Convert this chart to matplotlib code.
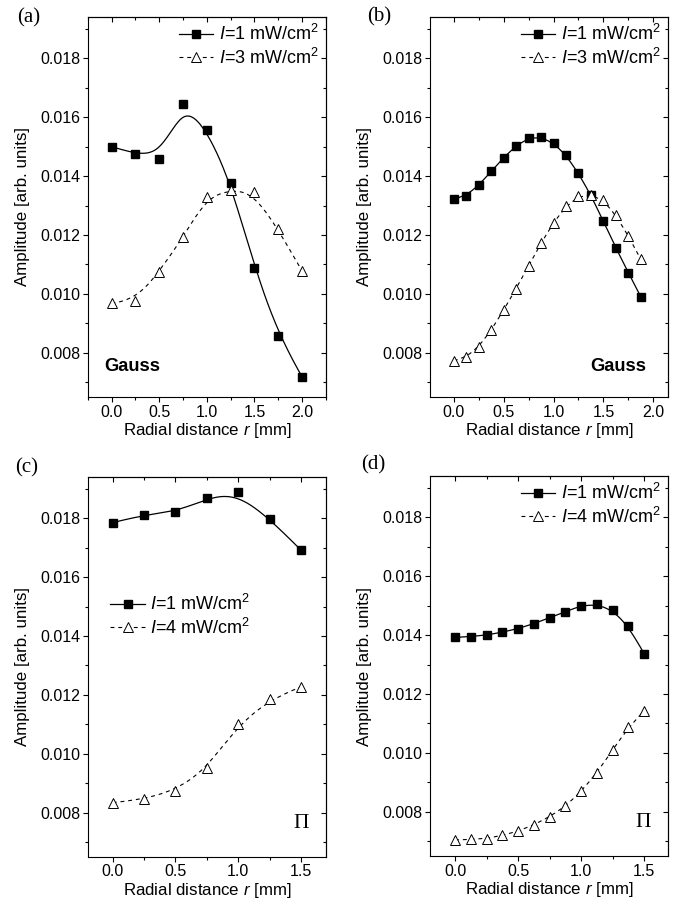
import numpy as np
import matplotlib
matplotlib.use("Agg")
import matplotlib.pyplot as plt
from matplotlib.ticker import MultipleLocator, FormatStrFormatter

plt.rcParams['font.family'] = ['Liberation Sans', 'DejaVu Sans']
plt.rcParams['mathtext.fontset'] = 'custom'
plt.rcParams['mathtext.rm'] = 'Liberation Sans'
plt.rcParams['mathtext.it'] = 'Liberation Sans:italic'

# (a) Gauss, coarse grid
r_a = [0.0, 0.25, 0.5, 0.75, 1.0, 1.25, 1.5, 1.75, 2.0]
a_i1 = [0.01500, 0.01476, 0.01458, 0.01645, 0.01558, 0.01378, 0.01089, 0.00858, 0.00718]
a_i3 = [0.00968, 0.00977, 0.01075, 0.01192, 0.01328, 0.01353, 0.01345, 0.01219, 0.01077]

# (b) Gauss, fine grid
r_b = [0.0, 0.125, 0.25, 0.375, 0.5, 0.625, 0.75, 0.875, 1.0, 1.125, 1.25, 1.375, 1.5, 1.625, 1.75, 1.875]
b_i1 = [0.01322, 0.01333, 0.01369, 0.01416, 0.01463, 0.01503, 0.01529, 0.01532,
        0.01512, 0.01471, 0.01409, 0.01335, 0.01246, 0.01156, 0.01072, 0.00990]
b_i3 = [0.00773, 0.00784, 0.00820, 0.00877, 0.00945, 0.01018, 0.01096, 0.01172,
        0.01242, 0.01297, 0.01331, 0.01336, 0.01318, 0.01267, 0.01198, 0.01117]

# (c) Pi, coarse grid
r_c = [0.0, 0.25, 0.5, 0.75, 1.0, 1.25, 1.5]
c_i1 = [0.01785, 0.01812, 0.01820, 0.01867, 0.01888, 0.01799, 0.01692]
c_i4 = [0.00834, 0.00845, 0.00874, 0.00950, 0.01100, 0.01185, 0.01227]

# (d) Pi, fine grid
r_d = [0.0, 0.125, 0.25, 0.375, 0.5, 0.625, 0.75, 0.875, 1.0, 1.125, 1.25, 1.375, 1.5]
d_i1 = [0.01392, 0.01395, 0.01400, 0.01410, 0.01422, 0.01439, 0.01459, 0.01480,
        0.01500, 0.01504, 0.01485, 0.01432, 0.01336]
d_i4 = [0.00704, 0.00706, 0.00709, 0.00720, 0.00734, 0.00756, 0.00783, 0.00819,
        0.00869, 0.00933, 0.01010, 0.01087, 0.01143]


def bspline(x, y, n=300, k=3):
    # clamped cubic B-spline using the data points as control points
    P = np.column_stack([x, y])
    m = len(P)
    k = min(k, m - 1)
    t = np.concatenate([np.zeros(k), np.linspace(0, 1, m - k + 1), np.ones(k)])
    u = np.linspace(0, 1, n)
    N = np.zeros((n, len(t) - 1))
    for i in range(len(t) - 1):
        N[:, i] = (t[i] <= u) & (u < t[i + 1])
    N[u == 1, m - 1] = 1
    for p in range(1, k + 1):
        Nn = np.zeros((n, len(t) - 1 - p))
        for i in range(len(t) - 1 - p):
            d1 = t[i + p] - t[i]
            d2 = t[i + p + 1] - t[i + 1]
            if d1 > 0:
                Nn[:, i] += (u - t[i]) / d1 * N[:, i]
            if d2 > 0:
                Nn[:, i] += (t[i + p + 1] - u) / d2 * N[:, i + 1]
        N = Nn
    c = N @ P
    return c[:, 0], c[:, 1]


fig = plt.figure(figsize=(6.77, 9.0), dpi=100)
W, H = 0.352, 0.422
pos = {'a': [0.1295, 0.559], 'b': [0.635, 0.559], 'c': [0.1295, 0.048], 'd': [0.635, 0.049]}
lab_pos = {'a': (0.025, 0.9806), 'b': (0.542, 0.981), 'c': (0.022, 0.4806), 'd': (0.534, 0.484)}

panels = [
    ('a', r_a, a_i1, a_i3, '3', (-0.25, 2.25), 'Gauss'),
    ('b', r_b, b_i1, b_i3, '3', (-0.24, 2.15), 'Gauss'),
    ('c', r_c, c_i1, c_i4, '4', (-0.2, 1.7), 'Pi'),
    ('d', r_d, d_i1, d_i4, '4', (-0.2, 1.69), 'Pi'),
]

dash = (0, (3.5, 3.5))
for key, r, s1, s2, hi, xl, tag in panels:
    ax = fig.add_axes([pos[key][0], pos[key][1], W, H])
    x1, y1 = bspline(r, s1)
    x2, y2 = bspline(r, s2)
    ax.plot(x1, y1, color='black', lw=0.9)
    ax.plot(x2, y2, color='black', lw=0.8, ls=dash)
    ax.plot(r, s1, ls='none', marker='s', ms=5.2, color='black')
    ax.plot(r, s2, ls='none', marker='^', ms=6.5, mfc='white', mec='black', mew=0.7)
    h1, = ax.plot([], [], color='black', lw=0.9, marker='s', ms=5.2)
    h2, = ax.plot([], [], color='black', lw=0.8, ls=dash, marker='^', ms=6.5,
                  mfc='white', mec='black', mew=0.7)
    labels = [r'$I$=1 mW/cm$^2$', r'$I$=' + hi + r' mW/cm$^2$']
    leg_kw = dict(frameon=False, fontsize=13, handlelength=1.9, handletextpad=0.3,
                  labelspacing=0.2, borderpad=0.3)
    if key == 'c':
        ax.legend([h1, h2], labels, loc='center left', bbox_to_anchor=(0.035, 0.635), **leg_kw)
    else:
        ax.legend([h1, h2], labels, loc='upper right', bbox_to_anchor=(1.03, 1.02), **leg_kw)

    ax.set_xlim(*xl)
    ax.set_ylim(0.0065, 0.0194)
    ax.xaxis.set_major_locator(MultipleLocator(0.5))
    ax.xaxis.set_minor_locator(MultipleLocator(0.25))
    ax.xaxis.set_major_formatter(FormatStrFormatter('%.1f'))
    ax.yaxis.set_major_locator(MultipleLocator(0.002))
    ax.yaxis.set_minor_locator(MultipleLocator(0.001))
    ax.yaxis.set_major_formatter(FormatStrFormatter('%.3f'))
    ax.tick_params(which='both', direction='out', labelsize=11.5, width=0.8, pad=2)
    ax.tick_params(which='major', length=3.5)
    ax.tick_params(which='minor', length=2.2)

    # inward ticks on right and top
    sy = ax.secondary_yaxis('right')
    sy.yaxis.set_major_locator(MultipleLocator(0.002))
    sy.yaxis.set_minor_locator(MultipleLocator(0.001))
    sy.tick_params(which='both', direction='in', labelright=False, width=0.8)
    sy.tick_params(which='major', length=3.5)
    sy.tick_params(which='minor', length=2.2)
    sx = ax.secondary_xaxis('top')
    sx.xaxis.set_major_locator(MultipleLocator(0.5))
    sx.xaxis.set_minor_locator(MultipleLocator(0.25))
    sx.tick_params(which='both', direction='in', labeltop=False, width=0.8)
    sx.tick_params(which='major', length=3.5)
    sx.tick_params(which='minor', length=2.2)

    ax.set_xlabel(r'Radial distance $r$ [mm]', fontsize=12.2, labelpad=1)
    ax.set_ylabel('Amplitude [arb. units]', fontsize=12.2, labelpad=7)

    if tag == 'Gauss':
        tx = 0.186 if key == 'a' else 0.79
        ax.text(tx, 0.079, 'Gauss', transform=ax.transAxes, ha='center', va='center',
                fontsize=13.2, fontweight='bold')
    else:
        ax.text(0.895, 0.087, '\u03a0', transform=ax.transAxes, ha='center', va='center',
                fontsize=15.5, family=['Liberation Serif', 'DejaVu Serif'])

    fig.text(lab_pos[key][0], lab_pos[key][1], '(' + key + ')', fontsize=15,
             family=['Liberation Serif', 'DejaVu Serif'], va='center')

fig.savefig('out.png', dpi=100)
